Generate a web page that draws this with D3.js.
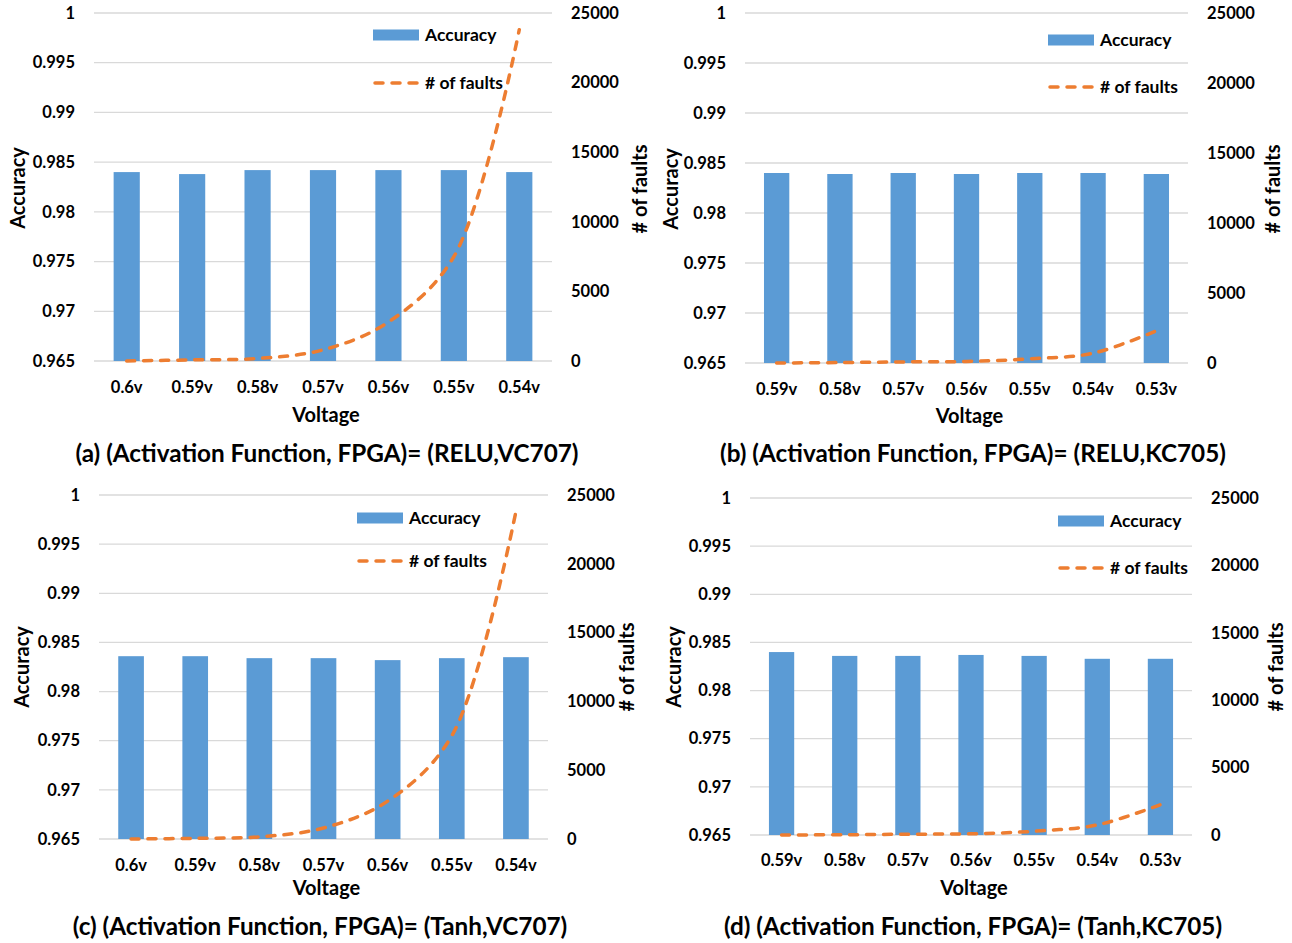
<!DOCTYPE html>
<html>
<head>
<meta charset="utf-8">
<script src="https://cdn.jsdelivr.net/npm/d3@7"></script>
<style>
  body { margin: 0; background: #fff; }
  svg text { font-family: Lato, "Open Sans", sans-serif; font-weight: bold; fill: #000; }
  .grid line { stroke: #d9d9d9; stroke-width: 1.3; }
</style>
</head>
<body>
<svg id="chart" width="1292" height="943"></svg>
<script>
// Data
const voltsVC707 = ["0.6v", "0.59v", "0.58v", "0.57v", "0.56v", "0.55v", "0.54v"];
const voltsKC705 = ["0.59v", "0.58v", "0.57v", "0.56v", "0.55v", "0.54v", "0.53v"];

const accReluVC707 = [0.9840, 0.9838, 0.9842, 0.9842, 0.9842, 0.9842, 0.9840];
const faultsReluVC707 = [0, 80, 180, 800, 2800, 7500, 23800];

const accReluKC705 = [0.9840, 0.9839, 0.9840, 0.9839, 0.9840, 0.9840, 0.9839];
const faultsReluKC705 = [0, 30, 80, 110, 300, 700, 2300];

const accTanhVC707 = [0.9836, 0.9836, 0.9834, 0.9834, 0.9832, 0.9834, 0.9835];
const faultsTanhVC707 = [0, 50, 160, 800, 2750, 7500, 23800];

const accTanhKC705 = [0.9840, 0.9836, 0.9836, 0.9837, 0.9836, 0.9833, 0.9833];
const faultsTanhKC705 = [0, 20, 60, 90, 280, 750, 2250];

const accTicks = [0.965, 0.97, 0.975, 0.98, 0.985, 0.99, 0.995, 1];
const faultTicks = [0, 5000, 10000, 15000, 20000, 25000];

const captions = [
  "(a) (Activation Function, FPGA)= (RELU,VC707)",
  "(b) (Activation Function, FPGA)= (RELU,KC705)",
  "(c) (Activation Function, FPGA)= (Tanh,VC707)",
  "(d) (Activation Function, FPGA)= (Tanh,KC705)"
];

const blue = "#5b9bd5", orange = "#ed7d31";

// panel layouts
const panels = [
  { cats: voltsVC707, acc: accReluVC707, faults: faultsReluVC707, caption: captions[0],
    x0: 94, x1: 552, y0: 13, y1: 361, accX: 18, accY: 188, fX: 640, fY: 189,
    tickY: 387, voltY: 415, capX: 327, capY: 453, legX: 373, legY1: 35, legY2: 83 },
  { cats: voltsKC705, acc: accReluKC705, faults: faultsReluKC705, caption: captions[1],
    x0: 745, x1: 1188, y0: 13, y1: 363, accX: 671, accY: 189, fX: 1273, fY: 189,
    tickY: 389, voltY: 416, capX: 973, capY: 453, legX: 1048, legY1: 40, legY2: 87 },
  { cats: voltsVC707, acc: accTanhVC707, faults: faultsTanhVC707, caption: captions[2],
    x0: 99, x1: 548, y0: 495, y1: 839, accX: 22, accY: 667, fX: 627, fY: 667,
    tickY: 865, voltY: 888, capX: 320, capY: 926, legX: 357, legY1: 518, legY2: 561 },
  { cats: voltsKC705, acc: accTanhKC705, faults: faultsTanhKC705, caption: captions[3],
    x0: 750, x1: 1192, y0: 498, y1: 835, accX: 674, accY: 667, fX: 1276, fY: 667,
    tickY: 860, voltY: 888, capX: 973, capY: 926, legX: 1058, legY1: 521, legY2: 568 }
];

const svg = d3.select("#chart");
const fmtAcc = d => String(+d.toFixed(3));

panels.forEach(p => {
  const g = svg.append("g");

  const x = d3.scaleBand().domain(p.cats).range([p.x0, p.x1]).paddingInner(0.6).paddingOuter(0.3);
  const yA = d3.scaleLinear().domain([0.965, 1]).range([p.y1, p.y0]);
  const yF = d3.scaleLinear().domain([0, 25000]).range([p.y1, p.y0]);

  // gridlines
  g.append("g").attr("class", "grid")
    .selectAll("line").data(accTicks).enter().append("line")
    .attr("x1", p.x0).attr("x2", p.x1)
    .attr("y1", d => yA(d)).attr("y2", d => yA(d));

  // bars
  g.selectAll(".bar").data(p.acc).enter().append("rect")
    .attr("class", "bar")
    .attr("x", (d, i) => x(p.cats[i]))
    .attr("width", x.bandwidth())
    .attr("y", d => yA(d))
    .attr("height", d => yA(0.965) - yA(d))
    .attr("fill", blue);

  // fault line
  const line = d3.line()
    .x((d, i) => x(p.cats[i]) + x.bandwidth() / 2)
    .y(d => yF(d))
    .curve(d3.curveCatmullRom.alpha(0.5));

  g.append("path").datum(p.faults)
    .attr("d", line)
    .attr("fill", "none")
    .attr("stroke", orange)
    .attr("stroke-width", 3.5)
    .attr("stroke-dasharray", "8,9")
    .attr("stroke-linecap", "round");

  // left axis labels
  g.selectAll(".ta").data(accTicks).enter().append("text")
    .attr("x", p.x0 - 19).attr("y", d => yA(d))
    .attr("dy", "0.35em").attr("text-anchor", "end")
    .style("font-size", "16.5px")
    .text(fmtAcc);

  // right axis labels
  g.selectAll(".tf").data(faultTicks).enter().append("text")
    .attr("x", p.x1 + 19).attr("y", d => yF(d))
    .attr("dy", "0.35em").attr("text-anchor", "start")
    .style("font-size", "16.5px")
    .text(d => d);

  // x tick labels
  g.selectAll(".tx").data(p.cats).enter().append("text")
    .attr("x", d => x(d) + x.bandwidth() / 2).attr("y", p.tickY)
    .attr("dy", "0.35em").attr("text-anchor", "middle")
    .style("font-size", "16.5px")
    .text(d => d);

  // axis titles
  g.append("text")
    .attr("transform", `translate(${p.accX},${p.accY}) rotate(-90)`)
    .attr("dy", "0.35em").attr("text-anchor", "middle")
    .style("font-size", "20px").text("Accuracy");

  g.append("text")
    .attr("transform", `translate(${p.fX},${p.fY}) rotate(-90)`)
    .attr("dy", "0.35em").attr("text-anchor", "middle")
    .style("font-size", "20px").text("# of faults");

  g.append("text")
    .attr("x", (p.x0 + p.x1) / 2 + 3).attr("y", p.voltY)
    .attr("dy", "0.35em").attr("text-anchor", "middle")
    .style("font-size", "20px").text("Voltage");

  // legend
  const lg = g.append("g");
  lg.append("rect")
    .attr("x", p.legX).attr("y", p.legY1 - 5.5)
    .attr("width", 46).attr("height", 11).attr("fill", blue);
  lg.append("text")
    .attr("x", p.legX + 52).attr("y", p.legY1)
    .attr("dy", "0.35em").style("font-size", "17.5px").text("Accuracy");
  lg.append("line")
    .attr("x1", p.legX + 2).attr("x2", p.legX + 46)
    .attr("y1", p.legY2).attr("y2", p.legY2)
    .attr("stroke", orange).attr("stroke-width", 3.5)
    .attr("stroke-dasharray", "8,9").attr("stroke-linecap", "round");
  lg.append("text")
    .attr("x", p.legX + 52).attr("y", p.legY2)
    .attr("dy", "0.35em").style("font-size", "17.5px").text("# of faults");

  // caption
  g.append("text")
    .attr("x", p.capX).attr("y", p.capY)
    .attr("dy", "0.35em").attr("text-anchor", "middle")
    .style("font-size", "24.3px").text(p.caption);
});
</script>
</body>
</html>
